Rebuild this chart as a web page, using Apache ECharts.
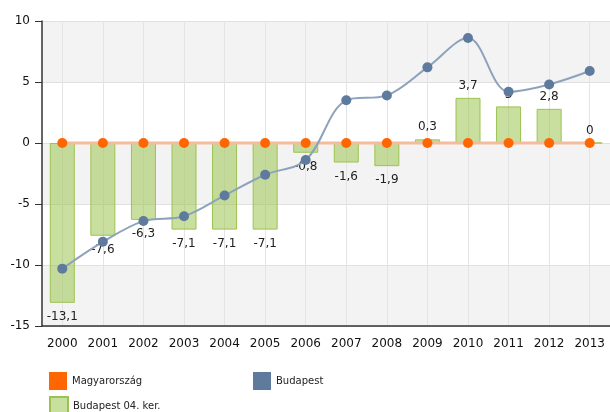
<!DOCTYPE html>
<html>
<head>
<meta charset="utf-8">
<script src="https://cdn.jsdelivr.net/npm/echarts@6/dist/echarts.min.js"></script>
<style>
  html, body { margin: 0; padding: 0; background: #fff; }
  #chart { width: 610px; height: 412px; }
</style>
</head>
<body>
<div id="chart"></div>
<script>
const years = ["2000", "2001", "2002", "2003", "2004", "2005", "2006", "2007", "2008", "2009", "2010", "2011", "2012", "2013"];
const magyarorszag = [0, 0, 0, 0, 0, 0, 0, 0, 0, 0, 0, 0, 0, 0];
const budapest = [-10.3, -8.1, -6.4, -6.0, -4.3, -2.6, -1.4, 3.5, 3.9, 6.2, 8.6, 4.2, 4.8, 5.9];
const kerulet = [-13.1, -7.6, -6.3, -7.1, -7.1, -7.1, -0.8, -1.6, -1.9, 0.3, 3.7, 3, 2.8, 0];

const font = "DejaVu Sans, Verdana, sans-serif";
const fmt = v => String(v).replace(".", ",");

const chart = echarts.init(document.getElementById("chart"));

const legendBase = {
  icon: "rect",
  padding: 0,
  itemWidth: 18,
  itemHeight: 18,
  textStyle: { fontFamily: font, fontSize: 10, color: "#222" }
};

chart.setOption({
  animation: false,
  legend: [
    { ...legendBase, data: ["Magyarország"], left: 49, top: 372 },
    { ...legendBase, data: ["Budapest"], left: 253, top: 372 },
    { ...legendBase, data: ["Budapest 04. ker."], left: 49, top: 396 }
  ],
  grid: { left: 42, top: 21, width: 568, height: 305, containLabel: false },
  xAxis: {
    type: "category",
    data: years,
    axisLine: { onZero: false, lineStyle: { color: "#333", width: 1.5 } },
    axisTick: { alignWithLabel: true, length: 6, lineStyle: { color: "#333" } },
    axisLabel: { fontFamily: font, fontSize: 12, color: "#111", margin: 12 },
    splitLine: { show: true, alignWithLabel: true, lineStyle: { color: "#e4e4e4" } }
  },
  yAxis: {
    type: "value",
    min: -15,
    max: 10,
    interval: 5,
    axisLine: { show: true, lineStyle: { color: "#333", width: 1.5 } },
    axisTick: { show: true, length: 7, lineStyle: { color: "#333" } },
    axisLabel: { fontFamily: font, fontSize: 12, color: "#111", margin: 12 },
    splitLine: { lineStyle: { color: "#e0e0e0" } },
    splitArea: { show: true, areaStyle: { color: ["#f3f3f3", "#ffffff"] } }
  },
  series: [
    {
      name: "Budapest 04. ker.",
      type: "bar",
      barWidth: 25,
      z: 1,
      itemStyle: { color: "rgba(155,196,80,0.55)", borderColor: "#9cc34f", borderWidth: 1 },
      data: kerulet.map(v => ({
        value: v,
        label: v < 0 ? { position: "bottom", distance: 8 } : { position: "top", distance: 6 }
      })),
      label: {
        show: true,
        fontFamily: font,
        fontSize: 12,
        color: "#222",
        formatter: p => fmt(p.value)
      }
    },
    {
      name: "Magyarország",
      type: "line",
      z: 3,
      data: magyarorszag,
      symbol: "circle",
      symbolSize: 10,
      showAllSymbol: true,
      lineStyle: { color: "#f4bb9c", width: 3 },
      itemStyle: { color: "#ff6600" }
    },
    {
      name: "Budapest",
      type: "line",
      z: 4,
      data: budapest,
      smooth: 0.35,
      symbol: "circle",
      symbolSize: 10,
      showAllSymbol: true,
      lineStyle: { color: "#8da3bc", width: 2 },
      itemStyle: { color: "#5e7a9c" }
    }
  ]
});
</script>
</body>
</html>
